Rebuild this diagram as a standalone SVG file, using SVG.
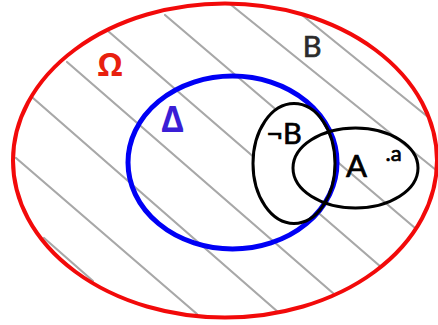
<svg xmlns="http://www.w3.org/2000/svg" width="438" height="325" viewBox="0 0 438 325">
  <style>
    .hatch { stroke: #a8a8a8; stroke-width: 2.2; stroke-linecap: round; fill: none; }
    .set { fill: none; }
    .lbl { font-family: Lato, "Open Sans", "DejaVu Sans", sans-serif; stroke-width: 0.7; }
    .greek { font-family: "Open Sans", "DejaVu Sans", sans-serif; font-weight: bold; }
  </style>
  <defs>
    <mask id="notB-hole" maskUnits="userSpaceOnUse" x="0" y="0" width="438" height="325">
      <rect x="0" y="0" width="438" height="325" fill="#fff"/>
      <ellipse cx="294" cy="163.5" rx="41" ry="60" fill="#000"/>
    </mask>
  </defs>
  <rect x="0" y="0" width="438" height="325" fill="#fff"/>

  <g id="connectors" class="hatch" mask="url(#notB-hole)">
    <line x1="230" y1="4" x2="436" y2="170"/>
    <line x1="302" y1="15" x2="428" y2="117"/>
    <line x1="165" y1="15" x2="415" y2="228"/>
    <line x1="108" y1="31" x2="381" y2="267"/>
    <line x1="67" y1="62" x2="334" y2="294"/>
    <line x1="33" y1="98" x2="278" y2="312"/>
    <line x1="16" y1="158" x2="197" y2="314"/>
    <line x1="44" y1="238" x2="93" y2="281"/>
  </g>

  <g id="omega">
    <ellipse class="set" cx="225" cy="160.5" rx="212" ry="157" stroke="#f20a0a" stroke-width="4"/>
    <text class="greek" x="110" y="76" font-size="32" text-anchor="middle" fill="#e8200e">Ω</text>
  </g>

  <g id="delta">
    <ellipse class="set" cx="232.5" cy="162.5" rx="104.5" ry="86.5" stroke="#0000f5" stroke-width="5"/>
    <text class="greek" x="172.5" y="132" font-size="35" text-anchor="middle" fill="#3a1ed6">Δ</text>
  </g>

  <g id="B">
    <text class="lbl" x="312" y="57" font-size="29" text-anchor="middle" fill="#2b2b2b" stroke="#2b2b2b">B</text>
  </g>

  <g id="notB">
    <ellipse class="set" cx="294" cy="163.5" rx="41" ry="60" stroke="#000" stroke-width="3"/>
    <text class="lbl" x="284" y="143.5" font-size="29" text-anchor="middle" fill="#000" stroke="#000">¬B</text>
  </g>

  <g id="A">
    <ellipse class="set" cx="355.5" cy="168" rx="62.5" ry="40" stroke="#000" stroke-width="3"/>
    <text class="lbl" x="356.5" y="177" font-size="31" text-anchor="middle" fill="#000" stroke="#000">A</text>
  </g>

  <g id="a">
    <text class="lbl" x="385.5" y="160.5" font-size="22" fill="#000" stroke="#000" stroke-width="0.4">.a</text>
  </g>
</svg>
